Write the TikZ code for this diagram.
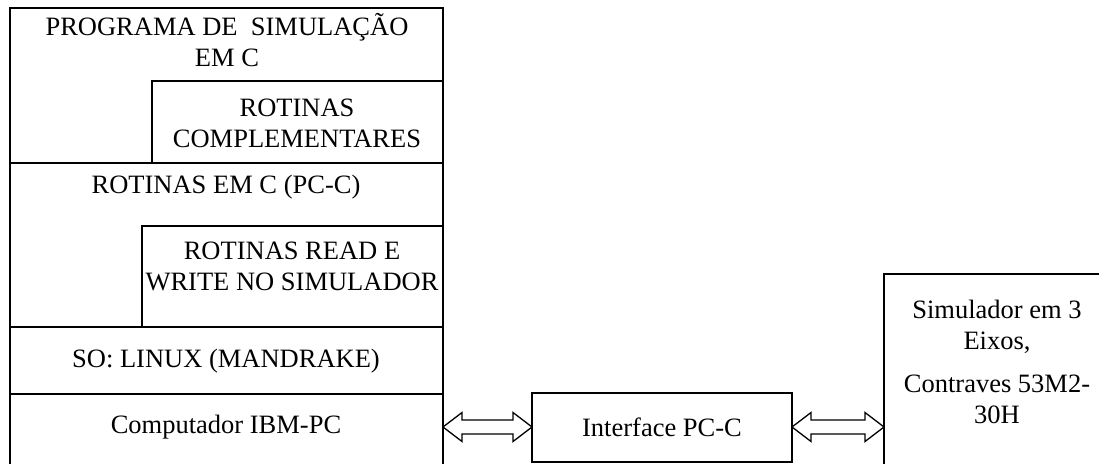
\documentclass[tikz,border=0pt]{standalone}
\usepackage{fontspec}
\setmainfont{Liberation Serif}
\usetikzlibrary{calc}
\begin{document}
\begin{tikzpicture}[x=1pt,y=-1pt,
  boxline/.style={draw, line width=1.3pt},
  lbl/.style={font=\fontsize{26.5}{31}\selectfont, align=center, inner sep=0pt},
  arr/.style={draw, line width=1.3pt, fill=white, line join=miter}]
\useasboundingbox (0,0) rectangle (1099,463);
% left stack
\draw[boxline] (10,8) rectangle (443,163);
\draw[boxline] (152,81) rectangle (443,163);
\draw[boxline] (10,163) rectangle (443,327);
\draw[boxline] (142,226) rectangle (443,327);
\draw[line width=2.4pt] (142,327) -- (443,327);
\draw[boxline] (10,327) rectangle (443,394);
\draw[boxline] (10,394) rectangle (443,490);
\node[lbl] (prog) at (227,40) {PROGRAMA DE\ \ SIMULAÇÃO\\EM C};
\node[lbl] (comp) at (297,123) {ROTINAS\\COMPLEMENTARES};
\node[lbl] (rotc) at (226,187) {ROTINAS EM C (PC-C)};
\node[lbl] (rw) at (292,266) {ROTINAS READ E\\WRITE NO SIMULADOR};
\node[lbl] (so) at (226,361) {SO: LINUX (MANDRAKE)};
\node[lbl] (pc) at (226,427) {Computador IBM-PC};
\coordinate (pcE) at (443,427);
% interface
\draw[boxline] (532,393) rectangle (792,462);
\node[lbl] (intf) at (662,427) {Interface PC-C};
\coordinate (inW) at (532,427);
\coordinate (inE) at (792,427);
% simulator
\draw[boxline] (884,274) rectangle (1120,490);
\node[lbl] (sim) at (997,362) {Simulador em 3\\Eixos,\\[12pt]Contraves 53M2-\\30H};
\coordinate (siW) at (884,427);
% double arrows
\draw[arr] let \p1=(pcE), \p2=(inW) in
  (\p1) -- (\x1+19pt,\y1+14.5pt) -- (\x1+19pt,\y1+7pt) -- (\x2-19pt,\y1+7pt) -- (\x2-19pt,\y1+14.5pt)
  -- (\p2) -- (\x2-19pt,\y1-14.5pt) -- (\x2-19pt,\y1-7pt) -- (\x1+19pt,\y1-7pt) -- (\x1+19pt,\y1-14.5pt) -- cycle;
\draw[arr] let \p1=(inE), \p2=(siW) in
  (\p1) -- (\x1+19pt,\y1+14.5pt) -- (\x1+19pt,\y1+7pt) -- (\x2-19pt,\y1+7pt) -- (\x2-19pt,\y1+14.5pt)
  -- (\p2) -- (\x2-19pt,\y1-14.5pt) -- (\x2-19pt,\y1-7pt) -- (\x1+19pt,\y1-7pt) -- (\x1+19pt,\y1-14.5pt) -- cycle;
\end{tikzpicture}
\end{document}
